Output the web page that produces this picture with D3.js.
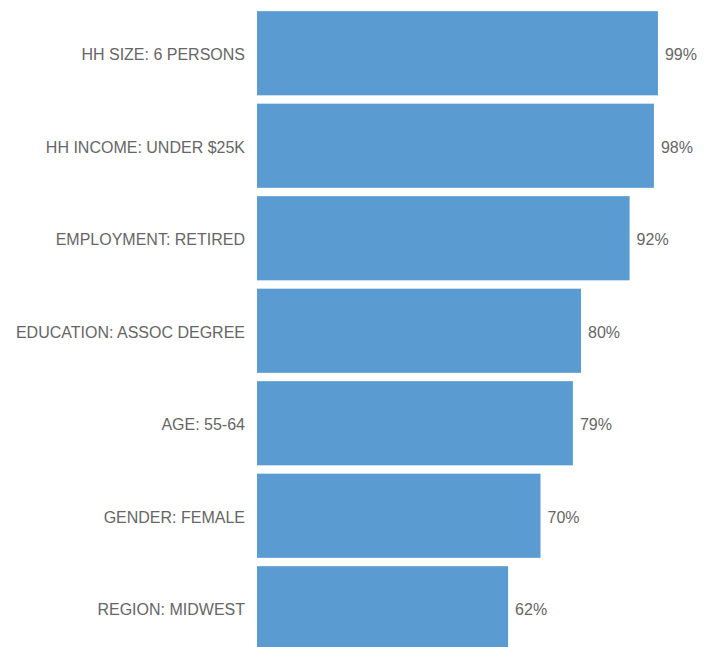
<!DOCTYPE html>
<html><head><meta charset="utf-8">
<script src="https://cdn.jsdelivr.net/npm/d3@7"></script>
<style>body{margin:0;background:#fff;}svg{display:block;}</style>
</head><body>
<svg id="chart" width="715" height="647"></svg>
<script>
const categories = ["HH SIZE: 6 PERSONS","HH INCOME: UNDER $25K","EMPLOYMENT: RETIRED","EDUCATION: ASSOC DEGREE","AGE: 55-64","GENDER: FEMALE","REGION: MIDWEST"];
const values = [99, 98, 92, 80, 78, 70, 62];
const valueLabels = ["99%","98%","92%","80%","79%","70%","62%"];

const svg = d3.select("#chart");
const x = d3.scaleLinear().domain([0, 100]).range([257, 662]);
const y = d3.scaleBand().domain(categories).range([7, 654.5]).paddingInner(0.09).paddingOuter(0.045);

const data = categories.map((c, i) => ({c, v: values[i], l: valueLabels[i]}));

svg.selectAll("rect.bar").data(data).enter().append("rect")
  .attr("class","bar")
  .attr("x", x(0))
  .attr("y", d => y(d.c))
  .attr("width", d => x(d.v) - x(0))
  .attr("height", y.bandwidth())
  .attr("fill", "#5a9bd2");

const yAxis = d3.axisLeft(y).tickSize(0).tickPadding(12);
const g = svg.append("g").attr("transform", `translate(${x(0)},0)`).call(yAxis);
g.select(".domain").remove();
g.selectAll("text").attr("font-family","'Liberation Sans', Arial, sans-serif").attr("font-size","16px").attr("fill","#666666").attr("dy","0.45em");

svg.selectAll("text.val").data(data).enter().append("text")
  .attr("class","val")
  .attr("x", d => x(d.v) + 7)
  .attr("y", d => y(d.c) + y.bandwidth()/2)
  .attr("dy","0.45em")
  .attr("font-family","'Liberation Sans', Arial, sans-serif")
  .attr("font-size","16px")
  .attr("fill","#666666")
  .text(d => d.l);
</script>
</body></html>
